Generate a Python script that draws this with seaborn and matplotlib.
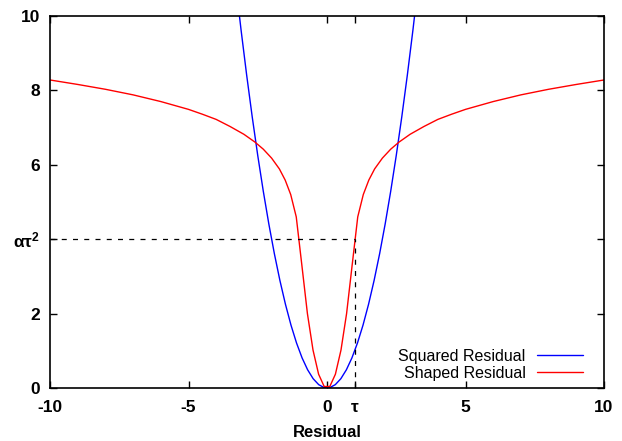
import matplotlib
matplotlib.use("Agg")
import matplotlib.pyplot as plt
import seaborn as sns
import pandas as pd

# ---- data ----
blue_x = [-3.3, -3.1, -2.9, -2.7, -2.5, -2.3, -2.1, -1.9, -1.7, -1.5, -1.3, -1.1, -0.9, -0.7,
          -0.5, -0.3, -0.1, 0.1, 0.3, 0.5, 0.7, 0.9, 1.1, 1.3, 1.5, 1.7, 1.9, 2.1, 2.3, 2.5,
          2.7, 2.9, 3.1, 3.3]
blue_y = [10.89, 9.61, 8.41, 7.29, 6.25, 5.29, 4.41, 3.61, 2.89, 2.25, 1.69, 1.21, 0.81, 0.49,
          0.25, 0.09, 0.01, 0.01, 0.09, 0.25, 0.49, 0.81, 1.21, 1.69, 2.25, 2.89, 3.61, 4.41, 5.29, 6.25,
          7.29, 8.41, 9.61, 10.89]

red_x = [-10.0, -9.0, -8.0, -7.0, -6.0, -5.0, -4.5, -4.0, -3.5, -3.0, -2.6, -2.3, -2.0, -1.72,
         -1.51, -1.31, -1.11, -0.909, -0.707, -0.505, -0.303, -0.101, 0.101, 0.303, 0.505, 0.707,
         0.909, 1.11, 1.31, 1.51, 1.72, 2.0, 2.3, 2.6, 3.0, 3.5, 4.0, 4.5, 5.0, 6.0, 7.0, 8.0, 9.0, 10.0]
red_y = [8.28, 8.16, 8.03, 7.88, 7.70, 7.49, 7.36, 7.22, 7.03, 6.82, 6.61, 6.42, 6.18, 5.89,
         5.59, 5.20, 4.60, 3.31, 2.00, 1.02, 0.37, 0.04, 0.04, 0.37, 1.02, 2.00,
         3.31, 4.60, 5.20, 5.59, 5.89, 6.18, 6.42, 6.61, 6.82, 7.03, 7.22, 7.36, 7.49, 7.70, 7.88, 8.03, 8.16, 8.28]

series_names = ["Squared Residual", "Shaped Residual"]
tau = 1.0
alpha_tau2 = 4.0
x_ticks = [-10, -5, 0, tau, 5, 10]
x_ticklabels = ["-10", "-5", "0", r"$\mathbf{\tau}$", "5", "10"]
y_ticks = [0, 2, alpha_tau2, 6, 8, 10]
y_ticklabels = ["0", "2", r"$\mathbf{\alpha\tau^2}$", "6", "8", "10"]
x_label = "Residual"

# ---- plotting ----
sns.set_style("ticks")
plt.rcParams["font.family"] = ["Liberation Sans", "DejaVu Sans"]
plt.rcParams["mathtext.fontset"] = "custom"
plt.rcParams["mathtext.rm"] = "Liberation Sans"
plt.rcParams["mathtext.it"] = "Liberation Sans"
plt.rcParams["mathtext.bf"] = "Liberation Sans:bold"

fig = plt.figure(figsize=(6.22, 4.41), dpi=100)
ax = fig.add_axes([50 / 622, 53 / 441, 554 / 622, 372 / 441])

df_blue = pd.DataFrame({"x": blue_x, "y": blue_y})
df_red = pd.DataFrame({"x": red_x, "y": red_y})

sns.lineplot(data=df_blue, x="x", y="y", ax=ax, color="#0000ff", linewidth=1.0,
             label=series_names[0], estimator=None, sort=False)
sns.lineplot(data=df_red, x="x", y="y", ax=ax, color="#ff0000", linewidth=1.0,
             label=series_names[1], estimator=None, sort=False)

# dashed guide lines at (tau, alpha*tau^2)
ax.plot([-10, tau], [alpha_tau2, alpha_tau2], color="black", linewidth=0.9,
        linestyle=(0, (4, 5)))
ax.plot([tau, tau], [0, alpha_tau2], color="black", linewidth=0.9,
        linestyle=(0, (4, 5)))

ax.set_xlim(-10, 10)
ax.set_ylim(0, 10)
ax.set_xticks(x_ticks)
ax.set_xticklabels(x_ticklabels)
ax.set_yticks(y_ticks)
ax.set_yticklabels(y_ticklabels)
ax.tick_params(direction="in", top=True, right=True, length=5, width=1.0,
               labelsize=12.5, colors="black")
ax.tick_params(axis="x", pad=9)
ax.tick_params(axis="y", pad=7)
for lab in ax.get_xticklabels() + ax.get_yticklabels():
    lab.set_fontweight("bold")
ax.set_xlabel(x_label, fontsize=12, fontweight="bold", labelpad=7, color="black")
ax.set_ylabel("")

for sp in ax.spines.values():
    sp.set_visible(True)
    sp.set_linewidth(1.2)
    sp.set_color("black")

leg = ax.legend(loc="lower right", frameon=False, markerfirst=False, fontsize=11.5,
                handlelength=2.9, handletextpad=0.7, labelspacing=0.12,
                borderpad=0.0, borderaxespad=0.0,
                bbox_to_anchor=(533 / 554, 7 / 372))
for t in leg.get_texts():
    t.set_color("black")

fig.savefig("out.png", dpi=100)
